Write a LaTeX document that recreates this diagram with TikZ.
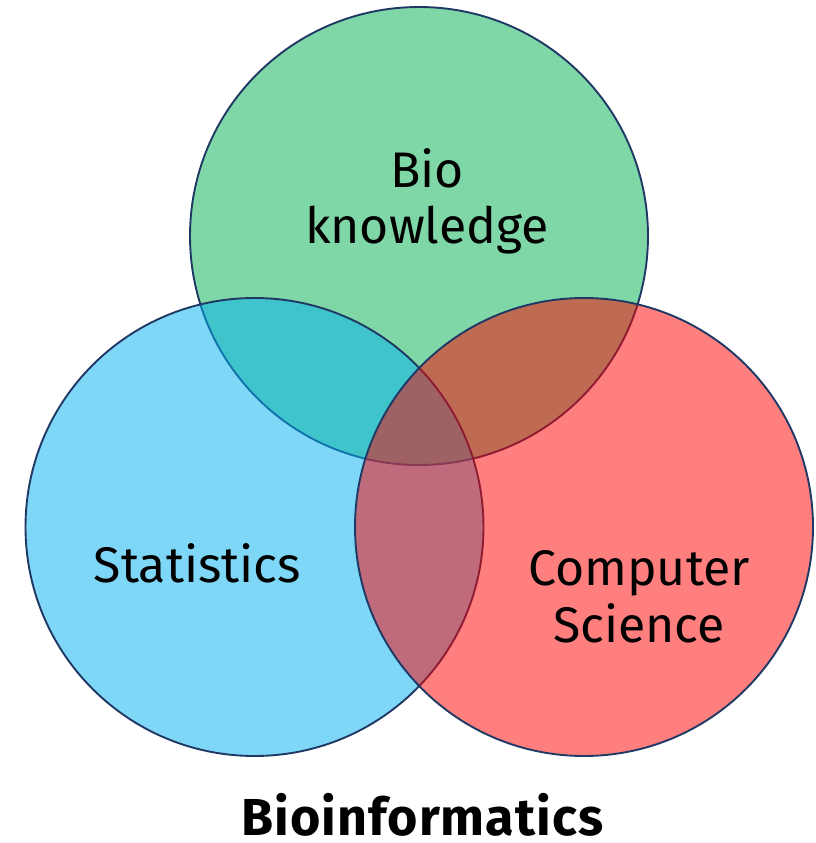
\documentclass[tikz,border=0pt]{standalone}
\usepackage{fontspec}
\setmainfont{Fira Sans}
\begin{document}
\begin{tikzpicture}[x=1pt,y=-1pt,
  setcircle/.style={circle, draw=outlinenavy, line width=1.9pt, fill opacity=0.5,
    minimum size=458pt, inner sep=0pt},
  label/.style={anchor=base, inner sep=0pt, font=\fontsize{50}{56}\selectfont},
  title/.style={anchor=base, inner sep=0pt,
    font=\fontsize{52}{56}\selectfont\bfseries\addfontfeature{LetterSpace=2}}]
\definecolor{outlinenavy}{HTML}{1F3864}
\definecolor{biogreen}{HTML}{00B050}
\definecolor{statblue}{HTML}{00B0F0}
\definecolor{csred}{HTML}{FF0000}
\useasboundingbox (0,0) rectangle (816,843);
% the three sets, drawn in this order so later fills tint earlier outlines
\node[setcircle, fill=biogreen] (bio) at (419,236) {};
\node[setcircle, fill=statblue] (stat) at (254.5,527) {};
\node[setcircle, fill=csred] (cs) at (584,527) {};
% set names
\node[label] (bio1) at (427,187) {Bio};
\node[label] (bio2) at (427,243) {knowledge};
\node[label] (stat1) at (197.5,582) {Statistics};
\node[label] (cs1) at (639,585) {Computer};
\node[label] (cs2) at (639,642) {Science};
\node[title] (name) at (422.5,835) {Bioinformatics};
\end{tikzpicture}
\end{document}
